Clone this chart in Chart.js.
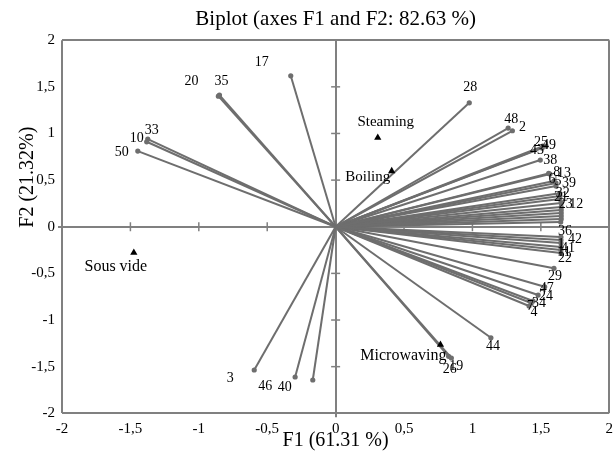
<!DOCTYPE html>
<html><head><meta charset="utf-8">
<script src="https://cdn.jsdelivr.net/npm/chart.js@4.4.0/dist/chart.umd.min.js"></script>
<style>html,body{margin:0;padding:0;background:#fff}#wrap{width:616px;height:460px}</style>
</head><body><div id="wrap"><canvas id="c" width="616" height="460"></canvas></div>
<script>
// ---- data ----
const variableNames = ['1','2','3','4','5','6','7','8','9','10','11','12','13','14','15','16','17','19','20','21','22','23','24','25','26','27','28','29','30','32','33','34','35','36','38','39','40','41','42','43','44','46','47','48','49','50'];
const f1Values = [1.647,1.292,-0.595,1.414,1.611,1.596,1.429,1.557,1.649,-1.381,1.647,1.649,1.567,1.649,1.649,1.645,-0.328,0.846,-0.857,1.640,1.647,1.638,1.480,1.516,0.826,1.649,0.977,1.596,1.649,1.638,-1.373,1.443,-0.849,1.647,1.496,1.611,-0.167,1.647,1.647,1.509,1.135,-0.296,1.528,1.261,1.538,-1.446];
const f2Values = [-0.175,1.029,-1.536,-0.850,0.468,0.490,-0.818,0.572,0.115,0.911,-0.250,0.254,0.565,0.147,0.083,0.050,1.618,-1.407,1.400,0.329,-0.282,0.297,-0.732,0.865,-1.389,0.211,1.329,-0.446,0.179,0.358,0.940,-0.796,1.412,-0.110,0.715,0.436,-1.643,-0.218,-0.143,0.844,-1.190,-1.611,-0.643,1.058,0.865,0.811];
const treatmentNames = ['Boiling','Microwaving','Sous vide','Steaming'];
const treatmentF1 = [0.41,0.766,-1.475,0.308];
const treatmentF2 = [0.597,-1.265,-0.279,0.954];
const tickValues = [-2,-1.5,-1,-0.5,0,0.5,1,1.5,2];
const xTickLabels = ['-2','-1,5','-1','-0,5','0','0,5','1','1,5','2'];
const yTickLabels = ['-2','-1,5','-1','-0,5','0','0,5','1','1,5','2'];
const chartTitle = 'Biplot (axes F1 and F2: 82.63 %)';
const xTitle = 'F1 (61.31 %)';
const yTitle = 'F2 (21.32%)';

// ---- label placement (pixel offsets from the mark) ----
const labelOffsets = {
 '33':[4,-9],'10':[-10,-3],'50':[-16,1],'35':[2,-14],'20':[-27,-15],'17':[-29,-14],
 '3':[-24,8],'46':[-30,9],'40':[-28,7],'19':[5,8],'26':[1,13],'44':[2,9],
 '28':[1,-15],'48':[3,-9],'2':[10,-3],'25':[-2,-4],'43':[-5,2],'49':[3,-1],'38':[10,0],
 '8':[8,-1],'13':[14,-1],'6':[-2,-2],'5':[2,-2],'39':[13,-3],'32':[3,0],'21':[1,1],'23':[6,5],'12':[15,1],
 '36':[4,-6],'42':[14,-1],'1':[0,1],'41':[7,1],'11':[3,2],'22':[4,5],
 '29':[1,8],'47':[2,2],'24':[8,1],'34':[6,2],'7':[-1,3],'4':[5,6],
 'Boiling':[-24,6],'Microwaving':[-37,11],'Sous vide':[-18,14],'Steaming':[8,-16]
};

const SERIF = '"Liberation Serif","Times New Roman",serif';
const GRAY = '#808080';
const VEC = '#6e6e6e';
const CLEAR = 'rgba(0,0,0,0)';

const datasets = variableNames.map((n,i)=>({
  label:n,
  data:[{x:0,y:0},{x:f1Values[i],y:f2Values[i]}],
  showLine:true, borderColor:VEC, borderWidth:2,
  pointRadius:[0,2.6], pointBackgroundColor:VEC, pointBorderWidth:0, pointHoverRadius:0,
  fill:false, order:2
}));
datasets.push({
  label:'treatments',
  data:treatmentNames.map((n,i)=>({x:treatmentF1[i],y:treatmentF2[i]})),
  showLine:false, pointStyle:'triangle', pointRadius:4.2,
  pointBackgroundColor:'#000', pointBorderColor:'#000', pointBorderWidth:0, order:1
});

const idx = v => tickValues.findIndex(t=>Math.abs(t-v)<1e-9);
const edgeOrZero = c => c.tick && (Math.abs(c.tick.value)<1e-9 || Math.abs(Math.abs(c.tick.value)-2)<1e-9);

const axisTicks = {
  id:'axisTicks',
  beforeDatasetsDraw(chart){
    const {ctx, scales:{x,y}} = chart;
    const x0 = x.getPixelForValue(0), y0 = y.getPixelForValue(0);
    ctx.save(); ctx.strokeStyle = GRAY; ctx.lineWidth = 1.5;
    tickValues.forEach(v=>{
      if (Math.abs(v)<1e-9 || Math.abs(v)>1.9) return;
      const px = x.getPixelForValue(v), py = y.getPixelForValue(v);
      ctx.beginPath(); ctx.moveTo(px,y0-4.5); ctx.lineTo(px,y0+4.5); ctx.stroke();
      ctx.beginPath(); ctx.moveTo(x0-4.5,py); ctx.lineTo(x0+4.5,py); ctx.stroke();
    });
    ctx.restore();
  }
};

const pointLabels = {
  id:'pointLabels',
  afterDatasetsDraw(chart){
    const ctx = chart.ctx;
    ctx.save(); ctx.fillStyle = '#000'; ctx.textAlign='center'; ctx.textBaseline='middle';
    chart.data.datasets.forEach((ds,di)=>{
      const meta = chart.getDatasetMeta(di);
      if (ds.label === 'treatments') {
        meta.data.forEach((el,k)=>{
          const name = treatmentNames[k]; const o = labelOffsets[name];
          if (!o) return;
          ctx.font = (name==='Boiling'||name==='Steaming'?15:16)+'px '+SERIF;
          ctx.fillText(name, el.x+o[0], el.y+o[1]);
        });
      } else {
        const el = meta.data[1]; const o = labelOffsets[ds.label];
        if (!o) return;
        ctx.font = '14px '+SERIF;
        ctx.fillText(ds.label, el.x+o[0], el.y+o[1]);
      }
    });
    ctx.restore();
  }
};

const yTitlePlugin = {
  id:'yTitle',
  afterDraw(chart){
    const ctx = chart.ctx; const a = chart.chartArea;
    ctx.save(); ctx.fillStyle='#000'; ctx.font='20px '+SERIF; ctx.textAlign='center'; ctx.textBaseline='middle';
    ctx.translate(28, a.top + (a.bottom-a.top)*0.367);
    ctx.rotate(-Math.PI/2); ctx.fillText(yTitle,0,0); ctx.restore();
  }
};

new Chart(document.getElementById('c'), {
  type:'scatter',
  data:{datasets},
  plugins:[axisTicks, pointLabels, yTitlePlugin],
  options:{
    responsive:false, devicePixelRatio:1, animation:false, events:[],
    layout:{padding:{left:0,right:4.5,top:0,bottom:0}},
    plugins:{
      legend:{display:false}, tooltip:{enabled:false},
      title:{display:true, text:chartTitle, color:'#000', fullSize:false,
        font:{family:SERIF,size:21,weight:'normal',lineHeight:1.2}, padding:{top:7,bottom:8}}
    },
    scales:{
      x:{type:'linear', min:-2, max:2,
        afterBuildTicks:s=>{s.ticks = tickValues.map(v=>({value:v}));},
        ticks:{callback:v=>xTickLabels[idx(v)], font:{family:SERIF,size:15}, color:'#000', padding:3, maxRotation:0, autoSkip:false},
        grid:{color:c=>edgeOrZero(c)?GRAY:CLEAR, lineWidth:2, tickLength:4, tickWidth:2,
          tickColor:c=>(c.tick && Math.abs(c.tick.value)<1e-9)?GRAY:CLEAR},
        border:{display:false},
        title:{display:true, text:xTitle, color:'#000', font:{family:SERIF,size:20,lineHeight:1.2}, padding:{top:0,bottom:7}},
        afterFit:s=>{s.height = 46.7;}
      },
      y:{type:'linear', min:-2, max:2,
        afterBuildTicks:s=>{s.ticks = tickValues.map(v=>({value:v}));},
        ticks:{callback:v=>yTickLabels[idx(v)], font:{family:SERIF,size:15}, color:'#000', padding:3, autoSkip:false},
        grid:{color:c=>edgeOrZero(c)?GRAY:CLEAR, lineWidth:2, tickLength:4, tickWidth:2,
          tickColor:c=>(c.tick && Math.abs(c.tick.value)<1e-9)?GRAY:CLEAR},
        border:{display:false},
        afterFit:s=>{s.width = 62;}
      }
    }
  }
});
</script></body></html>
